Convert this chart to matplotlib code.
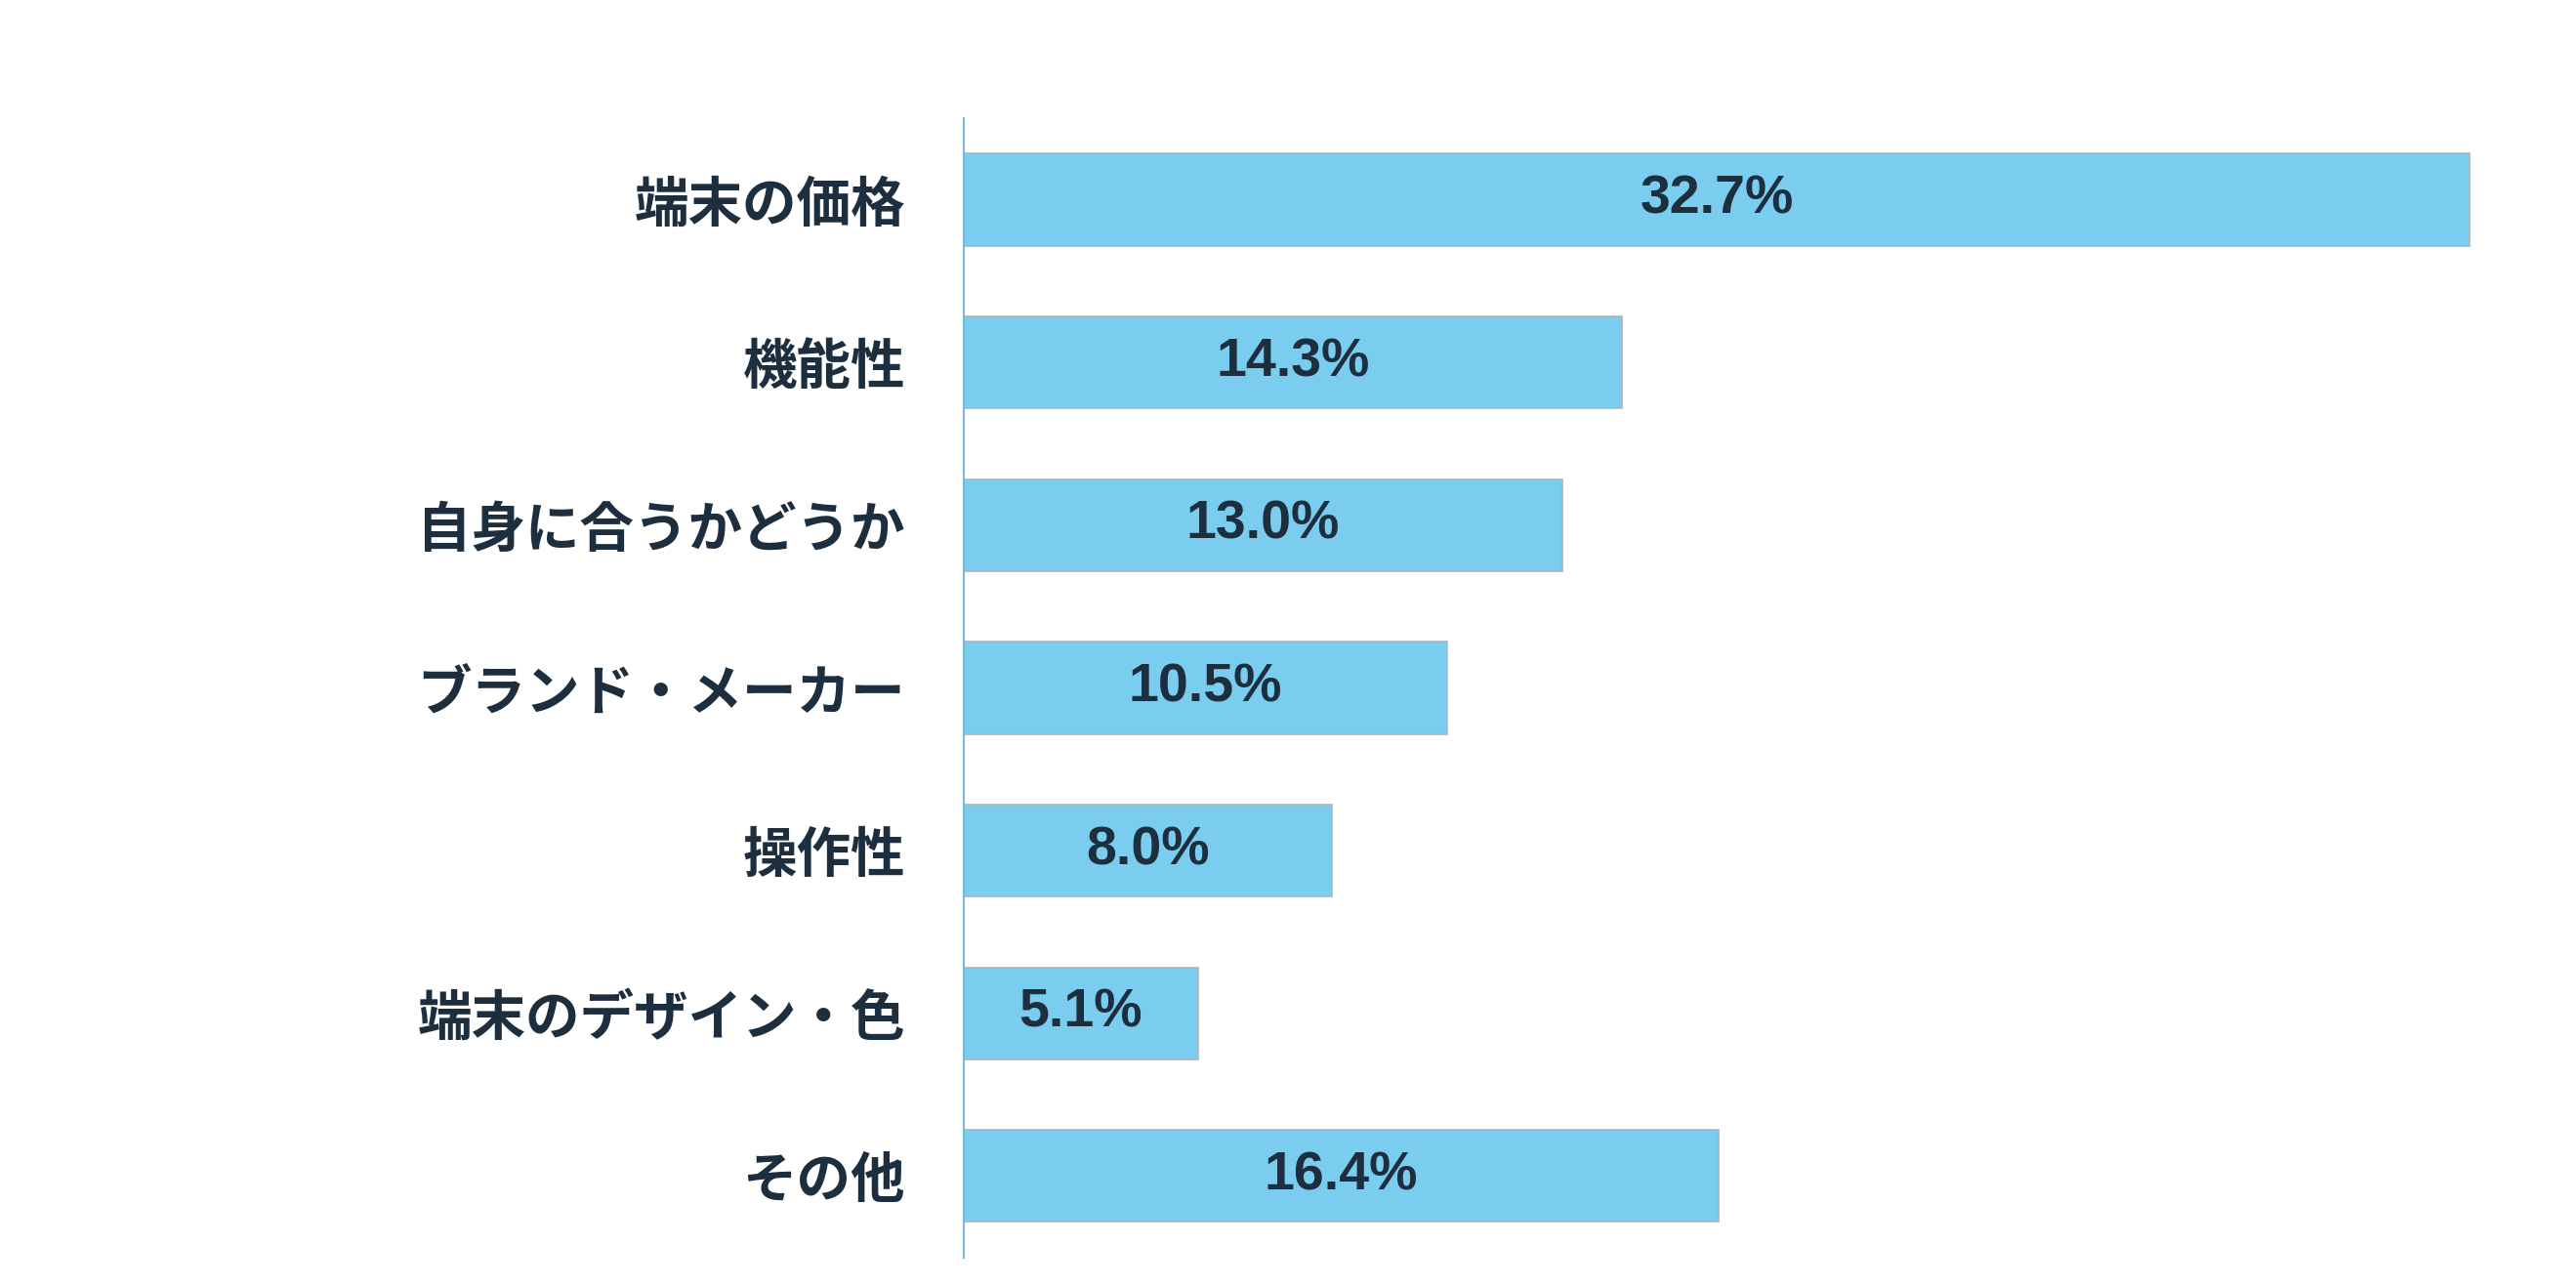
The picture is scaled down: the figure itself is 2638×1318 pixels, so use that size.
import matplotlib.pyplot as plt

categories = ['端末の価格', '機能性', '自身に合うかどうか', 'ブランド・メーカー', '操作性', '端末のデザイン・色', 'その他']
values = [32.7, 14.3, 13.0, 10.5, 8.0, 5.1, 16.4]
labels = ['32.7%', '14.3%', '13.0%', '10.5%', '8.0%', '5.1%', '16.4%']

fig = plt.figure(figsize=(26.38, 13.18), dpi=100)
ax = fig.add_axes([0.374, 0.023, 0.626, 0.885])

ypos = list(range(len(categories)))
ax.barh(ypos, values, height=0.565, color='#7ACDEF', edgecolor='#a9b6bf', linewidth=1.2)

for y, v, t in zip(ypos, values, labels):
    ax.text(v / 2, y, t, ha='center', va='center', fontsize=40, fontweight='bold',
            color='#1d2f3f', family='Liberation Sans')

ax.set_xlim(0, 35.0)
ax.set_ylim(6.5, -0.5)
ax.set_yticks(ypos)
ax.set_yticklabels(categories, fontsize=40, fontweight='bold', color='#1d2f3f',
                   family='Noto Sans CJK JP')
ax.tick_params(axis='y', length=0, pad=43)
ax.set_xticks([])
for s in ['top', 'right', 'bottom']:
    ax.spines[s].set_visible(False)
ax.spines['left'].set_color('#7ab8d8')
ax.spines['left'].set_linewidth(1.5)

fig.savefig('out.png', dpi=100)
